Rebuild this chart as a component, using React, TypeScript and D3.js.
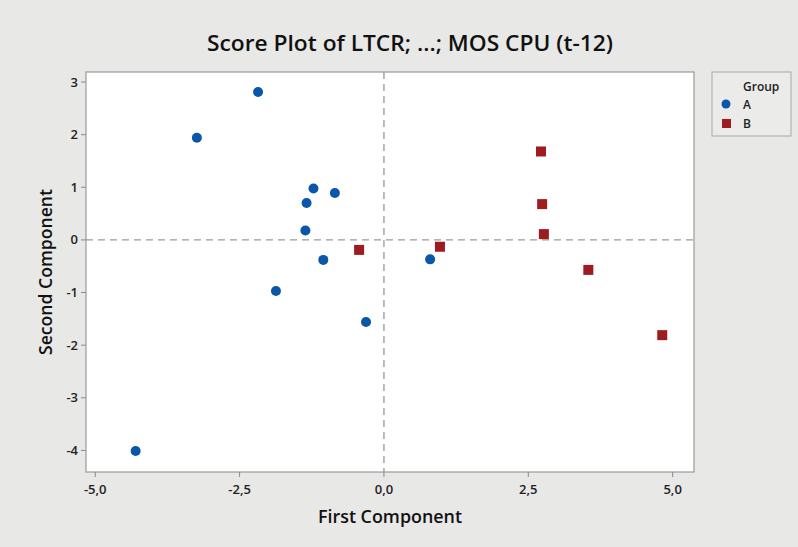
import React from "react";
import * as d3 from "d3";

const groupAX = [-4.30, -3.24, -2.18, -1.87, -1.34, -1.36, -1.22, -0.85, -1.05, -0.31, 0.80];
const groupAY = [-4.01, 1.94, 2.81, -0.97, 0.70, 0.18, 0.975, 0.89, -0.38, -1.56, -0.37];
const groupBX = [-0.43, 0.97, 2.72, 2.74, 2.77, 3.54, 4.82];
const groupBY = [-0.19, -0.13, 1.68, 0.68, 0.11, -0.57, -1.81];
const xTicks = [-5, -2.5, 0, 2.5, 5];
const yTicks = [-4, -3, -2, -1, 0, 1, 2, 3];
const groupNames = ["A", "B"];

const W = 798, H = 547;
const L = 86, R = 694, T = 72, B = 472;
const FONT = "'Open Sans', 'Noto Sans', sans-serif";
const BLUE = "#0a56a8";
const RED = "#9e1c1f";

export default function App() {
  const x = d3.scaleLinear().domain([-5.16, 5.37]).range([L, R]);
  const y = d3.scaleLinear().domain([-4.41, 3.19]).range([B, T]);
  const fmtX = (v: number) => d3.format(".1f")(v).replace(".", ",").replace("−", "-");
  const ptsA = groupAX.map((v, i) => [v, groupAY[i]]);
  const ptsB = groupBX.map((v, i) => [v, groupBY[i]]);
  const sq = 10;
  return (
    <svg width={W} height={H} style={{ position: "absolute", left: 0, top: 0 }} fontFamily={FONT}>
      <rect x={0} y={0} width={W} height={H} fill="#e8e8e7" />
      <text x={410} y={51} textAnchor="middle" fontSize={22} fontWeight={600} fill="#111" textLength={406} lengthAdjust="spacingAndGlyphs">
        Score Plot of LTCR; ...; MOS CPU (t-12)
      </text>
      <rect x={L} y={T} width={R - L} height={B - T} fill="#ffffff" stroke="#9a9a9a" strokeWidth={1.2} />
      {/* reference lines */}
      <line x1={x(0)} x2={x(0)} y1={T} y2={B} stroke="#9a9a9a" strokeWidth={1.3} strokeDasharray="7,5" />
      <line x1={L} x2={R} y1={y(0)} y2={y(0)} stroke="#9a9a9a" strokeWidth={1.3} strokeDasharray="7,5" />
      {/* x axis */}
      {xTicks.map((t) => (
        <g key={"x" + t}>
          <line x1={x(t)} x2={x(t)} y1={B} y2={B + 5} stroke="#8a8a8a" />
          <text x={x(t)} y={B + 22} textAnchor="middle" fontSize={13} fontWeight={600} fill="#222">{fmtX(t)}</text>
        </g>
      ))}
      {/* y axis */}
      {yTicks.map((t) => (
        <g key={"y" + t}>
          <line x1={L - 5} x2={L} y1={y(t)} y2={y(t)} stroke="#8a8a8a" />
          <text x={L - 8} y={y(t) + 4.5} textAnchor="end" fontSize={13} fontWeight={600} fill="#222">{String(t)}</text>
        </g>
      ))}
      <text x={390} y={523} textAnchor="middle" fontSize={18} fontWeight={600} fill="#111" textLength={144} lengthAdjust="spacingAndGlyphs">First Component</text>
      <text transform={`translate(52,${272}) rotate(-90)`} textAnchor="middle" fontSize={18} fontWeight={600} fill="#111" textLength={166} lengthAdjust="spacingAndGlyphs">Second Component</text>
      {/* points */}
      {ptsA.map((p, i) => (
        <circle key={"a" + i} cx={x(p[0])} cy={y(p[1])} r={5} fill={BLUE} />
      ))}
      {ptsB.map((p, i) => (
        <rect key={"b" + i} x={x(p[0]) - sq / 2} y={y(p[1]) - sq / 2} width={sq} height={sq} fill={RED} />
      ))}
      {/* legend */}
      <rect x={712} y={72} width={79} height={64} fill="#ebebea" stroke="#a8a8a8" strokeWidth={1} />
      <text x={743} y={91} fontSize={12} fontWeight={600} fill="#222">Group</text>
      <circle cx={726} cy={104} r={4.5} fill={BLUE} />
      <text x={743} y={108.5} fontSize={12} fontWeight={600} fill="#222">{groupNames[0]}</text>
      <rect x={722} y={119} width={9} height={9} fill={RED} />
      <text x={743} y={127.5} fontSize={12} fontWeight={600} fill="#222">{groupNames[1]}</text>
    </svg>
  );
}
